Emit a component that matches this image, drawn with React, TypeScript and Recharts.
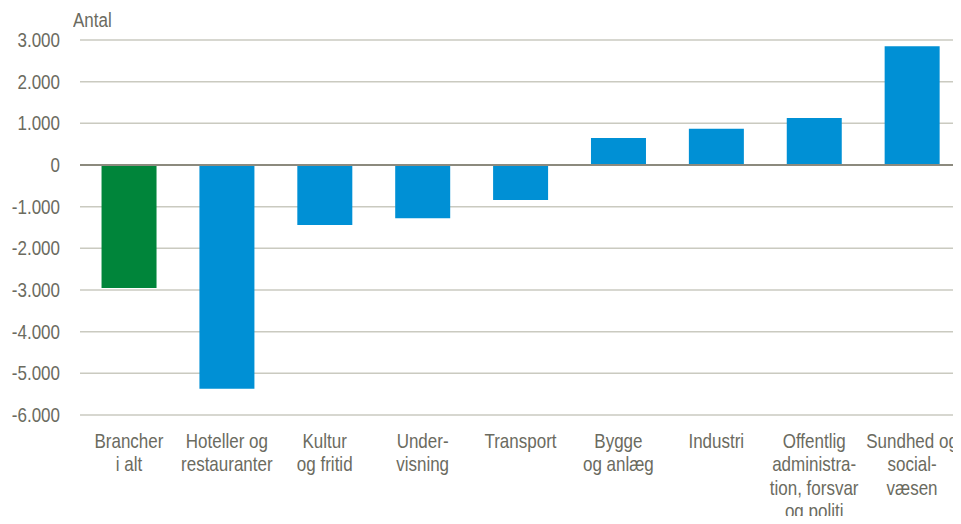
import React from 'react';
import { BarChart, Bar, Cell, XAxis, YAxis, CartesianGrid, ReferenceLine } from 'recharts';

// Danish industry chart - change in count ("Antal")
const categories = [
  'Brancher i alt',
  'Hoteller og restauranter',
  'Kultur og fritid',
  'Undervisning',
  'Transport',
  'Bygge og anlæg',
  'Industri',
  'Offentlig administration, forsvar og politi',
  'Sundhed og socialvæsen',
];
const labelLines = [
  ['Brancher', 'i alt'],
  ['Hoteller og', 'restauranter'],
  ['Kultur', 'og fritid'],
  ['Under-', 'visning'],
  ['Transport'],
  ['Bygge', 'og anlæg'],
  ['Industri'],
  ['Offentlig', 'administra-', 'tion, forsvar', 'og politi'],
  ['Sundhed og', 'social-', 'væsen'],
];
const values = [-2950, -5370, -1440, -1280, -840, 650, 870, 1130, 2850];
const yTicks = [-6000, -5000, -4000, -3000, -2000, -1000, 0, 1000, 2000, 3000];

// narrow font isn't available, so squeeze Liberation Sans horizontally
const FONT = "'Liberation Sans', Arial, sans-serif";
const SQUEEZE = 0.85;
const TEXT = '#6B6B5F';
const GREEN = '#00853A';
const BLUE = '#0090D5';

const data = categories.map((c, i) => ({ name: c, value: values[i] }));

const fmt = (v: number) => {
  const s = Math.abs(v).toString().replace(/\B(?=(\d{3})+(?!\d))/g, '.');
  return v < 0 ? '-' + s : s;
};

const YTick = (props: any) => {
  const { y, payload } = props;
  return (
    <g transform={`translate(60,${y + 7}) scale(${SQUEEZE},1)`}>
      <text x={0} y={0} textAnchor="end" fontSize={20} fontFamily={FONT} fill={TEXT}>
        {fmt(payload.value)}
      </text>
    </g>
  );
};

const XTick = (props: any) => {
  const { x, payload } = props;
  const lines = labelLines[payload.index] || [];
  return (
    <g transform={`translate(${x},0) scale(${SQUEEZE},1)`}>
      <text x={0} y={448} textAnchor="middle" fontSize={20} fontFamily={FONT} fill={TEXT}>
        {lines.map((l, i) => (
          <tspan key={i} x={0} y={448 + i * 23.4}>{l}</tspan>
        ))}
      </text>
    </g>
  );
};

export default function App() {
  return (
    <div style={{ position: 'relative', width: 961, height: 524, margin: -8, background: '#fff', overflow: 'hidden' }}>
      <div
        style={{
          position: 'absolute', left: 73, top: 9, fontFamily: FONT, fontSize: 20, color: TEXT,
          transform: `scaleX(${SQUEEZE})`, transformOrigin: 'left top',
        }}
      >
        Antal
      </div>
      <BarChart
        width={961}
        height={524}
        data={data}
        margin={{ top: 40, right: 0, left: 0, bottom: 0 }}
        barCategoryGap="22%"
      >
        <CartesianGrid vertical={false} stroke="#CACAC0" strokeWidth={1.5} />
        <XAxis dataKey="name" axisLine={false} tickLine={false} height={109} interval={0} tick={<XTick />} />
        <YAxis
          width={80}
          domain={[-6000, 3000]}
          ticks={yTicks}
          axisLine={false}
          tickLine={false}
          tick={<YTick />}
          interval={0}
        />
        <ReferenceLine y={0} stroke="#8C8A7E" strokeWidth={2} />
        <Bar dataKey="value" isAnimationActive={false}>
          {data.map((d, i) => (
            <Cell key={i} fill={i === 0 ? GREEN : BLUE} />
          ))}
        </Bar>
      </BarChart>
    </div>
  );
}
